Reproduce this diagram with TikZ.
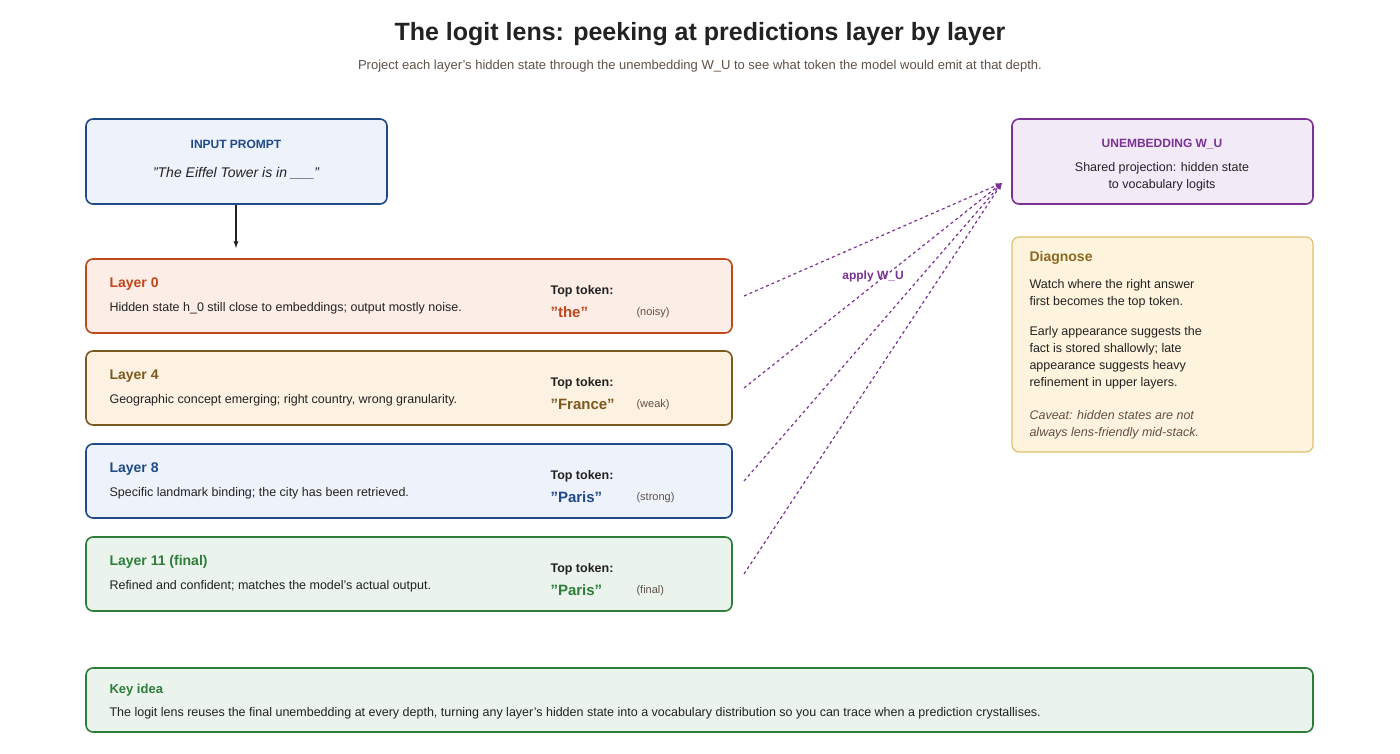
\documentclass[tikz,border=0pt]{standalone}
\usepackage{fontspec}
\setmainfont{Liberation Sans}
\usetikzlibrary{positioning,calc}
\definecolor{redc}{HTML}{C0461C}\definecolor{redf}{HTML}{FCEDE6}
\definecolor{brnc}{HTML}{7A5A1E}\definecolor{brnf}{HTML}{FDF2E1}
\definecolor{bluc}{HTML}{1F4A87}\definecolor{bluf}{HTML}{EEF3FB}
\definecolor{grnc}{HTML}{2E7D3A}\definecolor{grnf}{HTML}{EAF4EC}
\definecolor{purc}{HTML}{7B3294}\definecolor{purf}{HTML}{F3EAF8}
\definecolor{yelc}{HTML}{E0C070}\definecolor{yelf}{HTML}{FEF3DC}\definecolor{yelt}{HTML}{8A6A20}
\definecolor{ink}{HTML}{222222}\definecolor{sub}{HTML}{5E5248}
\begin{document}
\begin{tikzpicture}[x=1pt, y=-1pt,
    box/.style={draw=#1, line width=1.6pt, rounded corners=7pt},
    ttl/.style={anchor=west, font=\fontsize{14}{16}\selectfont\bfseries},
    txt/.style={anchor=west, text=ink, font=\fontsize{12.5}{17}\selectfont, align=left},
    lens/.style={dashed, purc, line width=1.2pt, -latex}]
  \useasboundingbox (0,0) rectangle (1400,754);
  \node[font=\fontsize{25}{28}\selectfont\bfseries, text=ink] (title) at (700,34) {The logit lens: peeking at predictions layer by layer};
  \node[font=\fontsize{13}{15}\selectfont, text=sub] (subtitle) at (700,66) {Project each layer's hidden state through the unembedding W\_U to see what token the model would emit at that depth.};
  % input prompt
  \draw[box=bluc, fill=bluf] (86,119) rectangle (387,204);
  \node[font=\fontsize{12}{14}\selectfont\bfseries, text=bluc] (inT) at (236,144) {INPUT PROMPT};
  \node[font=\fontsize{14}{16}\selectfont\itshape, text=ink] (inP) at (236,173) {"The Eiffel Tower is in \_\_\_"};
  \coordinate (inB) at (236,205);
  \coordinate (l0T) at (236,248);
  \draw[-latex, line width=1.3pt, ink] (inB) -- (l0T);
  % layers
  \foreach \y/\c/\f/\name/\desc/\tok/\note/\i in {
      259/redc/redf/{Layer 0}/{Hidden state h\_0 still close to embeddings; output mostly noise.}/"the"/(noisy)/0,
      351/brnc/brnf/{Layer 4}/{Geographic concept emerging; right country, wrong granularity.}/"France"/(weak)/1,
      444/bluc/bluf/{Layer 8}/{Specific landmark binding; the city has been retrieved.}/"Paris"/(strong)/2,
      537/grnc/grnf/{Layer 11 (final)}/{Refined and confident; matches the model's actual output.}/"Paris"/(final)/3}{
    \draw[box=\c, fill=\f] (86,\y) rectangle (732,\y+74);
    \node[ttl, text=\c] (lt\i) at (106,\y+25) {\name};
    \node[txt] (ld\i) at (106,\y+49) {\desc};
    \node[txt, font=\fontsize{12.5}{15}\selectfont\bfseries] (lk\i) at (547,\y+32) {Top token:};
    \node[anchor=west, text=\c, font=\fontsize{15}{17}\selectfont\bfseries] (lv\i) at (547,\y+53) {\tok};
    \node[anchor=west, text=sub, font=\fontsize{11}{13}\selectfont] (ln\i) at (633,\y+54) {\note};
    \coordinate (lo\i) at (744,\y+37);
  }
  % unembedding
  \draw[box=purc, fill=purf] (1012,119) rectangle (1313,204);
  \node[font=\fontsize{12}{14}\selectfont\bfseries, text=purc] (uT) at (1162,144) {UNEMBEDDING W\_U};
  \node[font=\fontsize{12.5}{17}\selectfont, text=ink, align=center] (uD) at (1162,177) {Shared projection: hidden state\\to vocabulary logits};
  \coordinate (uIn) at (1002,183);
  \foreach \i in {0,...,3}{\draw[lens] (lo\i) -- (uIn);}
  \node[text=purc, font=\fontsize{12}{14}\selectfont\bfseries] (apply) at (873,276) {apply W\_U};
  % diagnose
  \draw[box=yelc, line width=1.2pt, fill=yelf] (1012,237) rectangle (1313,452);
  \node[ttl, text=yelt] (dT) at (1026,258) {Diagnose};
  \node[txt, anchor=north west] (d1) at (1026,276) {Watch where the right answer\\first becomes the top token.};
  \node[txt, anchor=north west] (d2) at (1026,323) {Early appearance suggests the\\fact is stored shallowly; late\\appearance suggests heavy\\refinement in upper layers.};
  \node[txt, anchor=north west, text=sub, font=\fontsize{12.5}{17}\selectfont\itshape] (d3) at (1026,407) {Caveat: hidden states are not\\always lens-friendly mid-stack.};
  % key idea
  \draw[box=grnc, fill=grnf] (86,668) rectangle (1313,732);
  \node[ttl, text=grnc, font=\fontsize{13}{15}\selectfont\bfseries] (kT) at (106,690) {Key idea};
  \node[txt] (kD) at (106,713) {The logit lens reuses the final unembedding at every depth, turning any layer's hidden state into a vocabulary distribution so you can trace when a prediction crystallises.};
\end{tikzpicture}
\end{document}
